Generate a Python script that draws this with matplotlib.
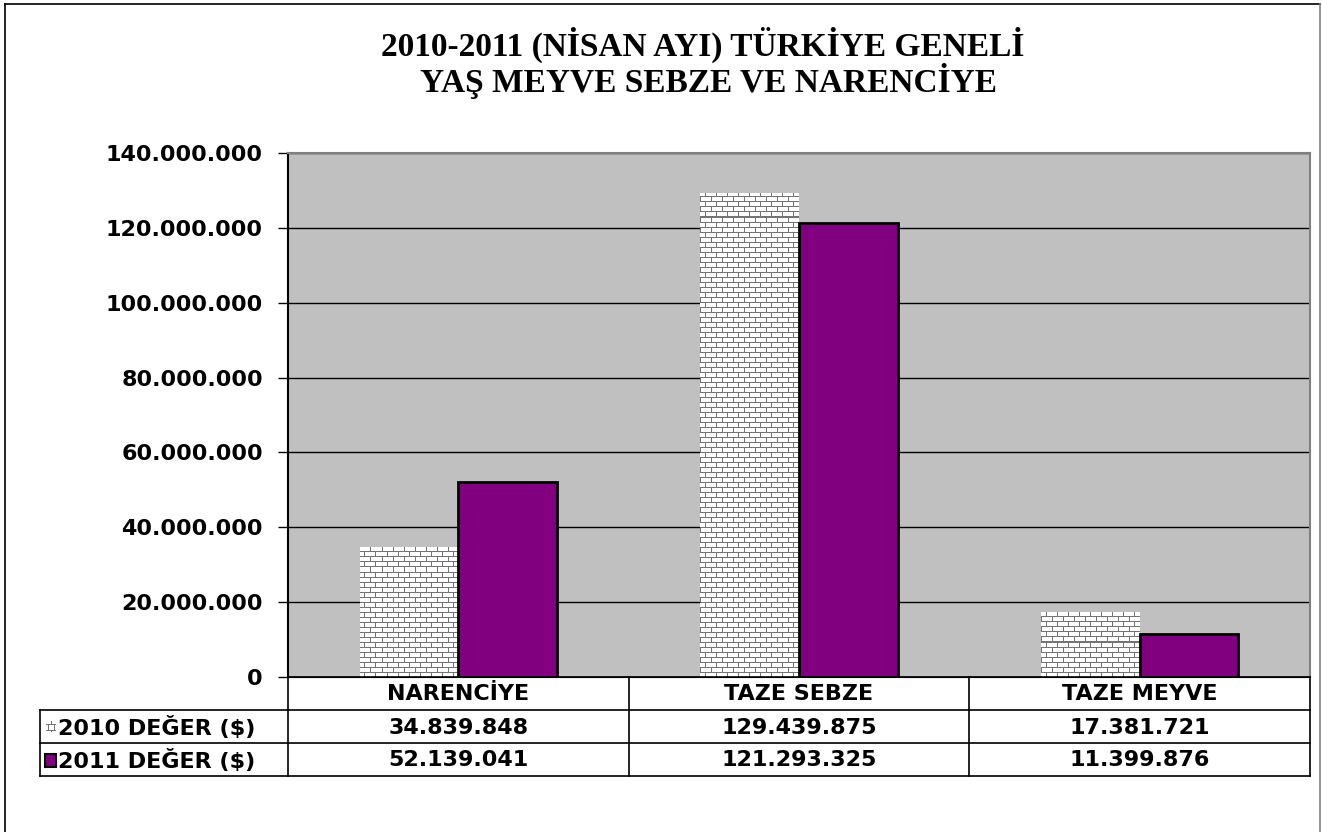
import numpy as np
import matplotlib
matplotlib.use("Agg")
import matplotlib.pyplot as plt
from matplotlib.lines import Line2D
from matplotlib.patches import Rectangle

categories = ["NARENCİYE", "TAZE SEBZE", "TAZE MEYVE"]
series_names = ["2010 DEĞER ($)", "2011 DEĞER ($)"]
values_2010 = [34839848, 129439875, 17381721]
values_2011 = [52139041, 121293325, 11399876]
yticks = [0, 20000000, 40000000, 60000000, 80000000, 100000000, 120000000, 140000000]
title_lines = ["2010-2011 (NİSAN AYI) TÜRKİYE GENELİ", "YAŞ MEYVE SEBZE VE NARENCİYE"]

PURPLE = "#800080"
W, H = 1322, 832

def fmt(v):
    return f"{v:,}".replace(",", ".")

def fx(x):
    return x / W

def fy(y):
    return 1 - y / H

fig = plt.figure(figsize=(W / 100, H / 100), dpi=100)
fig.patch.set_facecolor("white")

ax_l, ax_r, ax_t, ax_b = 288, 1310, 153, 677
ax = fig.add_axes([fx(ax_l), fy(ax_b), (ax_r - ax_l) / W, (ax_b - ax_t) / H])
ax.set_facecolor("#C0C0C0")
ax.set_axisbelow(True)

x = np.arange(len(categories))
bw = 0.29
bars10 = ax.bar(x - bw / 2, values_2010, bw, color="white", edgecolor="none", zorder=2)
bars11 = ax.bar(x + bw / 2, values_2011, bw, color=PURPLE, edgecolor="black", linewidth=2, zorder=3)

# brick texture
def brick(h, w, bh=5, bwid=11):
    img = np.ones((h, w))
    for r in range(h):
        row = r // bh
        if r % bh == bh - 1:
            img[r, :] = 0.45
        else:
            off = (bwid // 2) if row % 2 else 0
            for c in range(w):
                if (c + off) % bwid == bwid - 1:
                    img[r, c] = 0.45
    return img

tex = brick(ax_b - ax_t, ax_r - ax_l)
for b in bars10:
    im = ax.imshow(tex, cmap="gray", vmin=0, vmax=1, extent=(-0.5, 2.5, 0, 140000000),
                   aspect="auto", interpolation="none", zorder=2.5)
    im.set_clip_path(b)

ax.set_xlim(-0.5, 2.5)
ax.set_ylim(0, 140000000)
ax.set_yticks(yticks)
ax.set_yticklabels([fmt(v) for v in yticks], fontfamily="DejaVu Sans", fontweight="bold", fontsize=16)
ax.yaxis.grid(True, color="black", linewidth=1)
ax.tick_params(axis="y", length=7, width=1, color="black", pad=11)
ax.set_xticks([])
ax.spines["left"].set_color("black")
ax.spines["left"].set_linewidth(1.5)
ax.spines["top"].set_color("#808080")
ax.spines["top"].set_linewidth(1.5)
ax.spines["right"].set_color("#808080")
ax.spines["right"].set_linewidth(1.5)
ax.spines["bottom"].set_color("black")

# title
fig.text(fx(703), fy(45), title_lines[0], ha="center", va="center",
         fontfamily="Liberation Serif", fontweight="bold", fontsize=24)
fig.text(fx(709), fy(81), title_lines[1], ha="center", va="center",
         fontfamily="Liberation Serif", fontweight="bold", fontsize=24)

# outer border
fig.add_artist(Line2D([fx(5), fx(1320)], [fy(4), fy(4)], color="black", lw=1.2))
fig.add_artist(Line2D([fx(5), fx(5)], [fy(4), fy(832)], color="black", lw=1.2))
fig.add_artist(Line2D([fx(1320), fx(1320)], [fy(4), fy(832)], color="#808080", lw=1.2))

# table
col_w = (ax_r - ax_l) / 3
rows_y = [677, 710, 743, 776]
tl = 40
def hline(x0, x1, y):
    fig.add_artist(Line2D([fx(x0), fx(x1)], [fy(y), fy(y)], color="black", lw=1.2))
def vline(x0, y0, y1):
    fig.add_artist(Line2D([fx(x0), fx(x0)], [fy(y0), fy(y1)], color="black", lw=1.2))

hline(ax_l, ax_r, rows_y[0])
for y in rows_y[1:]:
    hline(tl, ax_r, y)
vline(tl, rows_y[1], rows_y[3])
for i in range(4):
    vline(ax_l + i * col_w, rows_y[0], rows_y[3])

tkw = dict(fontfamily="DejaVu Sans", fontweight="bold", fontsize=16, ha="center", va="center")
for i, c in enumerate(categories):
    cx = ax_l + (i + 0.5) * col_w
    fig.text(fx(cx), fy((rows_y[0] + rows_y[1]) / 2 + 1), c, **tkw)
    fig.text(fx(cx), fy((rows_y[1] + rows_y[2]) / 2 + 1), fmt(values_2010[i]), **tkw)
    fig.text(fx(cx), fy((rows_y[2] + rows_y[3]) / 2 + 1), fmt(values_2011[i]), **tkw)

lkw = dict(fontfamily="DejaVu Sans", fontweight="bold", fontsize=16, ha="left", va="center")
fig.text(fx(58), fy((rows_y[1] + rows_y[2]) / 2 + 1), series_names[0], **lkw)
fig.text(fx(58), fy((rows_y[2] + rows_y[3]) / 2 + 1), series_names[1], **lkw)

# legend keys
lax1 = fig.add_axes([fx(46), fy(732), 10 / W, 11 / H])
lax1.imshow(brick(11, 10, bh=5, bwid=6), cmap="gray", vmin=0, vmax=1,
            interpolation="none", aspect="auto")
lax1.axis("off")
fig.add_artist(Rectangle((fx(45), fy(767)), 11 / W, 13 / H, facecolor=PURPLE,
                         edgecolor="black", lw=1.5, transform=fig.transFigure))

fig.savefig("out.png", dpi=100)
